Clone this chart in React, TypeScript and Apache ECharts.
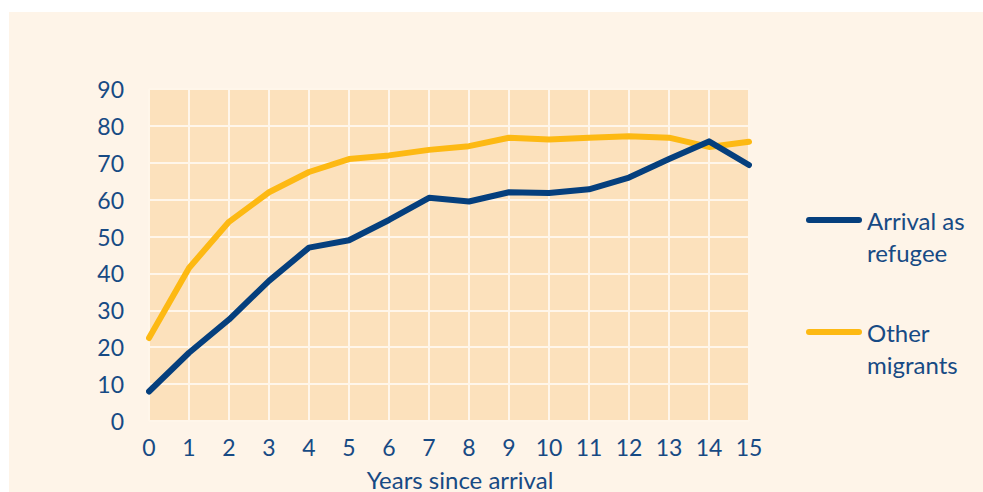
import React, { useEffect, useRef } from "react";
import * as echarts from "echarts";

const years = ["0", "1", "2", "3", "4", "5", "6", "7", "8", "9", "10", "11", "12", "13", "14", "15"];
const refugee = [8, 18.5, 27.5, 38, 47, 49, 54.5, 60.5, 59.5, 62, 61.8, 62.8, 66, 71, 75.8, 69.4];
const otherMigrants = [22.5, 41.5, 54, 62, 67.5, 71, 72, 73.5, 74.5, 76.8, 76.3, 76.8, 77.2, 76.8, 74.3, 75.7];
const seriesNames = ["Arrival as\nrefugee", "Other\nmigrants"];

const TEXT = "#174A84";
const FONT = "Lato, 'Open Sans', sans-serif";

export default function App() {
  const ref = useRef<HTMLDivElement>(null);
  useEffect(() => {
    if (!ref.current) return;
    const chart = echarts.init(ref.current, undefined, { renderer: "svg" });
    chart.setOption({
      animation: false,
      backgroundColor: "#FEF4E8",
      textStyle: { fontFamily: FONT },
      grid: {
        left: 140,
        right: 234,
        top: 77,
        bottom: 71,
        show: true,
        backgroundColor: "#FCE1BC",
        borderWidth: 0,
        outerBoundsMode: "none",
        containLabel: false,
      },
      legend: {
        orient: "vertical",
        left: 792,
        top: 155,
        itemWidth: 56,
        itemHeight: 6,
        itemGap: 16,
        icon: "path://M3,0 L53,0 A3,3 0 0 1 53,6 L3,6 A3,3 0 0 1 3,0 Z",
        formatter: (name: string) => " \n" + name,
        textStyle: {
          color: TEXT,
          fontSize: 24,
          fontFamily: FONT,
          lineHeight: 32,
        },
        data: seriesNames,
      },
      xAxis: {
        type: "category",
        data: years,
        boundaryGap: false,
        name: "Years since arrival",
        nameLocation: "middle",
        nameGap: 46,
        nameTextStyle: { color: TEXT, fontSize: 24, fontFamily: FONT, padding: [0, 0, 0, 22] },
        axisLine: { show: false },
        axisTick: { show: false },
        axisLabel: { color: TEXT, fontSize: 23, fontFamily: FONT, margin: 14 },
        splitLine: { show: true, lineStyle: { color: "#FFF6EA", width: 2 } },
      },
      yAxis: {
        type: "value",
        min: 0,
        max: 90,
        interval: 10,
        axisLine: { show: false },
        axisTick: { show: false },
        axisLabel: { color: TEXT, fontSize: 23, fontFamily: FONT, margin: 25 },
        splitLine: { show: true, lineStyle: { color: "#FFF6EA", width: 2 } },
      },
      series: [
        {
          name: seriesNames[0],
          type: "line",
          data: refugee,
          symbol: "none",
          color: "#053F7D",
          lineStyle: { width: 6, color: "#053F7D", cap: "round", join: "round" },
          z: 3,
        },
        {
          name: seriesNames[1],
          type: "line",
          data: otherMigrants,
          symbol: "none",
          color: "#FDB913",
          lineStyle: { width: 6, color: "#FDB913", cap: "round", join: "round" },
          z: 2,
        },
      ],
    });
    return () => chart.dispose();
  }, []);
  return (
    <div
      ref={ref}
      style={{ position: "absolute", left: 9, top: 12, width: 974, height: 480 }}
    />
  );
}
